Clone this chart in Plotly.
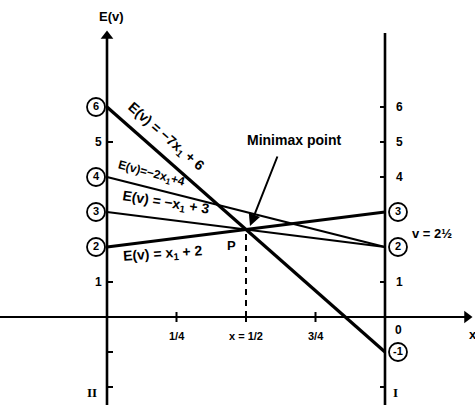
import plotly.graph_objects as go

# Expected payoff lines E(v) for the four pure strategies of player I,
# evaluated at the two ends of the mixing interval (x1 = 0 on axis II, x1 = 1 on axis I)
line_labels = ["E(v) = −7x<sub>1</sub> + 6", "E(v)=−2x<sub>1</sub>+4",
               "E(v) = −x<sub>1</sub> + 3", "E(v) = x<sub>1</sub> + 2"]
value_at_II = [6, 4, 3, 2]
value_at_I = [-1, 2, 2, 3]

# interior ticks on the x1 axis
x_ticks = [0.25, 0.5, 0.75]
x_tick_labels = ["1/4", "x = 1/2", "3/4"]

# scale marks on the two vertical axes
left_scale = [5, 1]
right_scale = [6, 5, 4, 1]
game_value_label = "v = 2½"

# ---- geometry of the canvas (pixels) ----
W, H = 475, 405
PX0, PXS = 107, 278      # pixel column of x1=0 and pixels per unit x1
PY0, PYS = 317, 35       # pixel row of E=0 and pixels per unit E
xr = [-PX0 / PXS, (W - PX0) / PXS]
yr = [-(H - PY0) / PYS, PY0 / PYS]


def dx(px):
    return (px - PX0) / PXS


def dy(py):
    return (PY0 - py) / PYS


FONT = "Liberation Sans, Arial, sans-serif"
SERIF = "Liberation Serif, Times New Roman, serif"
INK = "black"

fig = go.Figure()

# payoff lines: the lower envelope pair drawn heavier
widths = [3.2, 2.2, 2.2, 3.2]
for lo, hi, w in zip(value_at_II, value_at_I, widths):
    fig.add_trace(go.Scatter(x=[0, 1], y=[lo, hi], mode="lines",
                             line=dict(color=INK, width=w),
                             hoverinfo="skip", showlegend=False))

# minimax point: intersection of the steepest falling and the rising line
a0, a1 = value_at_II[0], value_at_I[0] - value_at_II[0]
b0, b1 = value_at_II[3], value_at_I[3] - value_at_II[3]
mx = (b0 - a0) / (a1 - b1)
my = a0 + a1 * mx

shapes = []
# vertical axes
shapes.append(dict(type="line", x0=0, x1=0, y0=yr[0], y1=dy(36),
                   line=dict(color=INK, width=2.6)))
shapes.append(dict(type="line", x0=1, x1=1, y0=yr[0], y1=dy(33),
                   line=dict(color=INK, width=2.6)))
# horizontal axis
shapes.append(dict(type="line", x0=xr[0], x1=dx(466), y0=0, y1=0,
                   line=dict(color=INK, width=2.2)))
# dashed drop line from the minimax point
shapes.append(dict(type="line", x0=mx, x1=mx, y0=0, y1=my,
                   line=dict(color=INK, width=2, dash="6px,5px")))
# x1 ticks
for t in x_ticks:
    shapes.append(dict(type="line", x0=t, x1=t, y0=dy(322), y1=dy(312),
                       line=dict(color=INK, width=2)))
# left axis ticks (to the right)
for v in left_scale + [-1, -2]:
    shapes.append(dict(type="line", x0=0, x1=dx(113), y0=v, y1=v,
                       line=dict(color=INK, width=2)))
# right axis ticks (to the left)
for v in right_scale + [-2]:
    shapes.append(dict(type="line", x0=dx(380), x1=1, y0=v, y1=v,
                       line=dict(color=INK, width=2)))

# arrowheads on the axes
fig.add_trace(go.Scatter(x=[0], y=[dy(36)], mode="markers",
                         marker=dict(symbol="triangle-up", size=11, color=INK),
                         hoverinfo="skip", showlegend=False))
fig.add_trace(go.Scatter(x=[dx(467)], y=[0], mode="markers",
                         marker=dict(symbol="triangle-right", size=11, color=INK),
                         hoverinfo="skip", showlegend=False))

# circled payoff values on both axes (white-filled where they sit beside the axis)
circ_x = [dx(96)] * len(value_at_II) + [dx(398)] * 2
circ_y = list(value_at_II) + [value_at_I[1], value_at_I[3]]
fig.add_trace(go.Scatter(
    x=circ_x, y=circ_y, mode="markers+text",
    text=[f"<b>{v}</b>" for v in circ_y],
    textposition="middle center",
    textfont=dict(family=FONT, size=11, color=INK),
    marker=dict(symbol="circle", size=18, color="white",
                line=dict(color=INK, width=1.8)),
    hoverinfo="skip", showlegend=False))
# the negative payoff's circle straddles axis I, so it stays open
fig.add_trace(go.Scatter(
    x=[dx(398)], y=[value_at_I[0]], mode="markers+text",
    text=[f"<b>{value_at_I[0]}</b>"],
    textposition="middle center",
    textfont=dict(family=FONT, size=11, color=INK),
    marker=dict(symbol="circle-open", size=18, color=INK,
                line=dict(color=INK, width=1.8)),
    hoverinfo="skip", showlegend=False))

ann = []


def label(px, py, text, size=13, angle=0, family=FONT, **kw):
    ann.append(dict(x=px / W, y=1 - py / H, xref="paper", yref="paper",
                    text=text, showarrow=False, textangle=angle,
                    font=dict(family=family, size=size, color=INK),
                    xanchor="center", yanchor="middle", **kw))


# line equations written along each line
label(166, 137, f"<b>{line_labels[0]}</b>", size=14, angle=41)
label(151, 174, f"<b>{line_labels[1]}</b>", size=12, angle=15)
label(166, 203, f"<b>{line_labels[2]}</b>", size=14, angle=9)
label(163, 254, f"<b>{line_labels[3]}</b>", size=14, angle=-4)

# axis titles and scale numbers
label(111, 17, "<b>E(v)</b>", size=13)
for v in left_scale:
    label(98, PY0 - v * PYS, f"<b>{v}</b>", size=12)
for v in right_scale:
    label(399, PY0 - v * PYS, f"<b>{v}</b>", size=12)
label(398, 330, "<b>0</b>", size=12)
label(473, 334, "<b>x</b>", size=13)
for t, s in zip(x_ticks, x_tick_labels):
    label(PX0 + t * PXS, 336, f"<b>{s}</b>", size=11)

label(92, 392, "<b>II</b>", size=13, family=SERIF)
label(395, 392, "<b>I</b>", size=13, family=SERIF)
label(432, 233, f"<b>{game_value_label}</b>", size=13)
label(294, 140, "<b>Minimax point</b>", size=14)
label(231, 245, "<b>P</b>", size=13)

# arrow pointing at the minimax point
ann.append(dict(x=dx(250), y=dy(226), xref="x", yref="y",
                ax=28, ay=-71, axref="pixel", ayref="pixel",
                showarrow=True, arrowhead=2, arrowsize=1.2, arrowwidth=2,
                arrowcolor=INK, text=""))

fig.update_layout(
    width=W, height=H,
    margin=dict(l=0, r=0, t=0, b=0),
    paper_bgcolor="white", plot_bgcolor="white",
    xaxis=dict(range=xr, visible=False, fixedrange=True),
    yaxis=dict(range=yr, visible=False, fixedrange=True),
    shapes=shapes, annotations=ann,
)

fig.write_html("out.html")
